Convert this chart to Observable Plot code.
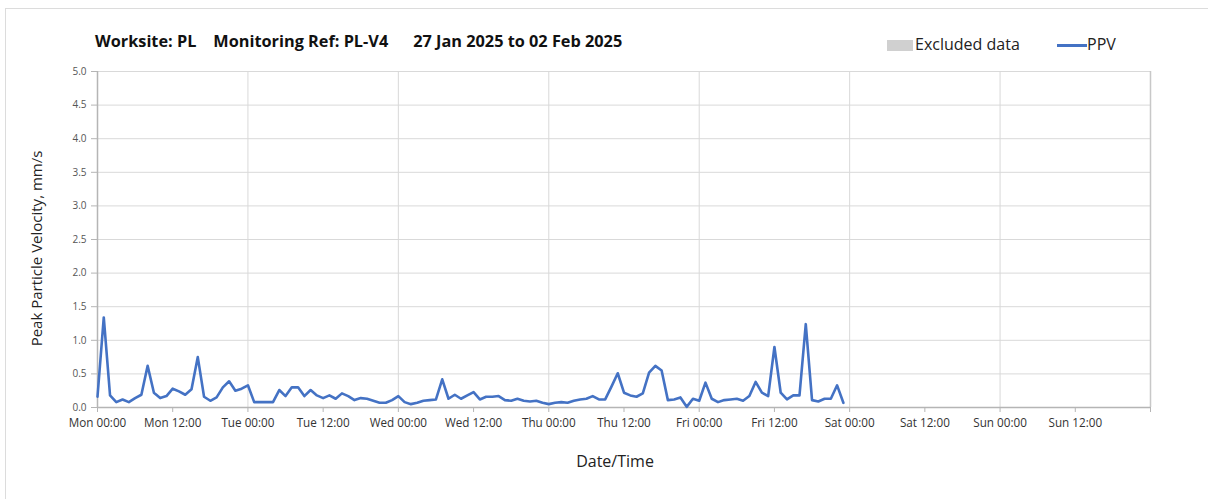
<!DOCTYPE html>
<html>
<head>
<meta charset="utf-8">
<script src="https://cdn.jsdelivr.net/npm/d3@7"></script>
<script src="https://cdn.jsdelivr.net/npm/@observablehq/plot@0.6"></script>
<style>
  html, body { margin: 0; padding: 0; background: #fff; overflow: hidden; }
  body { font-family: "Open Sans", "DejaVu Sans", sans-serif; width: 1208px; height: 499px; position: relative; }
  #frame { position: absolute; left: 5px; top: 8px; width: 1400px; height: 700px; border: 1px solid #dcdcdc; }
  #title { position: absolute; left: 95px; top: 30px; font-weight: 700; font-size: 16.3px; color: #111; white-space: pre; }
  #title span { display: inline-block; }
  .leg { position: absolute; font-size: 16px; color: #222; top: 33px; }
  #legRect { position: absolute; left: 887px; top: 40px; width: 26px; height: 11px; background: #d0d0d0; }
  #legLine { position: absolute; left: 1057px; top: 44px; width: 30px; height: 3px; background: #4472C4; }
  #chart { position: absolute; left: 0; top: 60px; }
</style>
</head>
<body>
<div id="frame"></div>
<div id="title"></div>
<div id="legRect"></div>
<div class="leg" id="legText1" style="left:915px"></div>
<div id="legLine"></div>
<div class="leg" id="legText2" style="left:1087px"></div>
<div id="chart"></div>
<script>
// ---- Data ----
const titleParts = ["Worksite: PL", "Monitoring Ref: PL-V4", "27 Jan 2025 to 02 Feb 2025"];
const legendLabels = ["Excluded data", "PPV"];
const startDate = "2025-01-27T00:00:00Z";   // Mon 00:00, hourly readings
const xLabel = "Date/Time";
const yLabel = "Peak Particle Velocity, mm/s";
const yTicks = [0, 0.5, 1, 1.5, 2, 2.5, 3, 3.5, 4, 4.5, 5];
const ppv = [
  0.16, 1.34, 0.18, 0.08, 0.12, 0.08, 0.14, 0.19, 0.62, 0.22, 0.14, 0.17,
  0.28, 0.24, 0.19, 0.27, 0.75, 0.16, 0.10, 0.15, 0.30, 0.39, 0.25, 0.28,
  0.33, 0.08, 0.08, 0.08, 0.08, 0.26, 0.17, 0.30, 0.30, 0.17, 0.26, 0.18,
  0.14, 0.18, 0.13, 0.21, 0.17, 0.11, 0.14, 0.13, 0.10, 0.07, 0.07, 0.11,
  0.17, 0.08, 0.05, 0.07, 0.10, 0.11, 0.12, 0.42, 0.13, 0.19, 0.13, 0.18,
  0.23, 0.12, 0.16, 0.16, 0.17, 0.11, 0.10, 0.13, 0.10, 0.09, 0.10, 0.07,
  0.05, 0.07, 0.08, 0.07, 0.10, 0.12, 0.13, 0.17, 0.12, 0.12, 0.31, 0.51,
  0.22, 0.18, 0.16, 0.21, 0.52, 0.62, 0.55, 0.11, 0.12, 0.15, 0.01, 0.13,
  0.10, 0.37, 0.13, 0.08, 0.11, 0.12, 0.13, 0.10, 0.17, 0.38, 0.22, 0.17,
  0.90, 0.22, 0.12, 0.18, 0.18, 1.24, 0.11, 0.09, 0.13, 0.13, 0.33, 0.07
];

// ---- Build ----
const HOUR = 3600e3;
const t0 = new Date(startDate).getTime();
const data = ppv.map((v, i) => ({ t: new Date(t0 + i * HOUR), v }));
const xEnd = new Date(t0 + 7 * 24 * HOUR);
const xTicks = d3.range(14).map(i => new Date(t0 + i * 12 * HOUR));
const dayLines = d3.range(1, 8).map(i => new Date(t0 + i * 24 * HOUR));

const title = document.getElementById("title");
titleParts.forEach((p, i) => {
  const s = document.createElement("span");
  s.textContent = p;
  if (i > 0) s.style.marginLeft = i === 1 ? "17px" : "25px";
  title.appendChild(s);
});
document.getElementById("legText1").textContent = legendLabels[0];
document.getElementById("legText2").textContent = legendLabels[1];

const chart = Plot.plot({
  width: 1208,
  height: 430,
  marginLeft: 97,
  marginRight: 58,
  marginTop: 11,
  marginBottom: 83,
  style: { fontFamily: "'Open Sans', sans-serif", background: "transparent", overflow: "visible" },
  x: { type: "utc", domain: [new Date(t0), xEnd] },
  y: { domain: [0, 5] },
  marks: [
    Plot.ruleY(yTicks.filter(d => d > 0), { stroke: "#d9d9d9", strokeWidth: 1 }),
    Plot.ruleX(dayLines, { stroke: "#d9d9d9", strokeWidth: 1 }),
    Plot.ruleX([xEnd], { stroke: "#c8c8c8", strokeWidth: 1.5 }),
    Plot.ruleY([0], { stroke: "#b5b5b5", strokeWidth: 1.5 }),
    Plot.ruleX([new Date(t0)], { stroke: "#b5b5b5", strokeWidth: 1.5 }),
    Plot.axisY({ ticks: yTicks, tickFormat: d3.format(".1f"), tickSize: 6, tickPadding: 5,
      fontSize: 10, label: null, stroke: "#b5b5b5", fill: "#555" }),
    Plot.axisX({ ticks: xTicks, tickFormat: d3.utcFormat("%a %H:%M"), tickSize: 5, tickPadding: 6,
      fontSize: 11.7, label: null, stroke: "#b5b5b5", fill: "#333" }),
    Plot.axisX({ ticks: [xEnd], tickFormat: () => "", tickSize: 5, label: null, stroke: "#b5b5b5" }),
    Plot.line(data, { x: "t", y: "v", stroke: "#4472C4", strokeWidth: 2.6, strokeLinejoin: "round" }),
    Plot.text([xLabel], { frameAnchor: "bottom", dy: 59, dx: -9, fontSize: 16, fill: "#222", textAnchor: "middle" }),
    Plot.text([yLabel], { frameAnchor: "left", rotate: -90, dx: -60, dy: 9, fontSize: 15, fill: "#222", textAnchor: "middle" })
  ]
});
document.getElementById("chart").appendChild(chart);
</script>
</body>
</html>
